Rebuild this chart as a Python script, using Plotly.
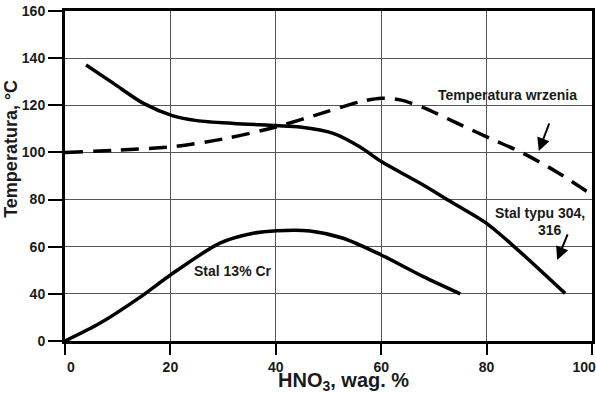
import plotly.graph_objects as go

# ---- data (HNO3 wt%, temperature °C) ----
hno3_boil = [0, 10, 20.5, 30.7, 40.2, 49.7, 56, 60, 63.6, 68, 74.4, 80.6, 86.9, 93.4, 100]
temp_boil = [100, 101, 102.4, 106, 110.9, 117.3, 121.5, 123, 122.3, 119, 112.4, 106, 99.7, 91.6, 82]

hno3_304 = [4.0, 9.2, 14.9, 20.5, 25, 32, 40, 44.6, 50.9, 56, 60.1, 67.4, 73.7, 80, 86.3, 94.9]
temp_304 = [137.1, 129.3, 120.8, 115.5, 113.5, 112.3, 111.4, 110.8, 108.1, 102.3, 96, 86.9, 78.4, 69.9, 57.9, 40.2]

hno3_cr = [0, 6.6, 14.2, 20, 29.4, 35.7, 40.2, 46.5, 52.8, 60, 68, 75]
temp_cr = [0, 15, 37, 48, 61.5, 65.7, 66.8, 66.7, 63.6, 56.5, 47.3, 40]

y_tick_labels = ["0", "40", "60", "80", "100", "120", "140", "160"]
x_tick_vals = [0, 20, 40, 60, 80, 100]
x_tick_labels = ["\u00a0\u00a0\u00a00", "20", "40", "60", "80", "100\u00a0\u00a0\u00a0\u00a0"]

# broken y axis: 0..40 is compressed into the span of one 20-degree step
def axis_break(v):
    return v if v >= 40 else 20 + v / 2.0

y_tick_pos = [axis_break(float(t)) for t in y_tick_labels]

fig = go.Figure()
common = dict(mode="lines", line_shape="spline", showlegend=False, hoverinfo="skip")
fig.add_trace(go.Scatter(x=hno3_boil, y=[axis_break(v) for v in temp_boil],
                         line=dict(color="black", width=3.5, dash="18px,10px", smoothing=0.8), **common))
fig.add_trace(go.Scatter(x=hno3_304, y=[axis_break(v) for v in temp_304],
                         line=dict(color="black", width=3.5, smoothing=0.8), **common))
fig.add_trace(go.Scatter(x=hno3_cr, y=[axis_break(v) for v in temp_cr],
                         line=dict(color="black", width=3.5, smoothing=0.8), **common))

bold = dict(family="Arial", color="#1a1a1a", weight="bold")

fig.update_layout(
    width=596, height=393,
    margin=dict(l=65, r=4, t=11, b=52, autoexpand=False),
    paper_bgcolor="white", plot_bgcolor="white",
    xaxis=dict(range=[0, 100], tickvals=x_tick_vals, ticktext=x_tick_labels, ticks="outside",
               ticklen=11, tickwidth=2, automargin=False, ticklabeloverflow="allow",
               tickcolor="black", showline=True, linewidth=3, linecolor="black", mirror=True,
               showgrid=True, gridcolor="#555", gridwidth=1, zeroline=False,
               tickfont=dict(size=14, **bold)),
    yaxis=dict(range=[20, 160], tickvals=y_tick_pos, ticktext=y_tick_labels, ticks="outside",
               ticklen=14, tickwidth=2, tickcolor="black", showline=True, linewidth=3,
               automargin=False, ticklabeloverflow="allow",
               linecolor="black", mirror=True, showgrid=True, gridcolor="#555", gridwidth=1,
               zeroline=False, tickfont=dict(size=14, **bold)),
)

# axis titles
fig.add_annotation(xref="paper", yref="paper", x=0.529, y=-0.122, xanchor="center", yanchor="middle",
                   text="HNO<sub>3</sub>, wag. %", showarrow=False, font=dict(size=20, **bold))
fig.add_annotation(xref="paper", yref="paper", x=-0.104, y=0.583, xanchor="center", yanchor="middle",
                   text="Temperatura, °C", textangle=-90, showarrow=False, font=dict(size=18, **bold))

ann_font = dict(size=14, **bold)
fig.add_annotation(x=83.9, y=124.4, text="Temperatura wrzenia", showarrow=False, font=ann_font)
fig.add_annotation(x=90.1, y=74.3, text="Stal typu 304,", showarrow=False, font=ann_font)
fig.add_annotation(x=92.0, y=67.1, text="316", showarrow=False, font=ann_font)
fig.add_annotation(x=31.8, y=49.7, text="Stal 13% Cr", showarrow=False, font=ann_font)

arrow = dict(text="", showarrow=True, arrowhead=2, arrowsize=1.3, arrowwidth=2,
             arrowcolor="black", axref="pixel", ayref="pixel")
fig.add_annotation(x=89.9, y=100.6, ax=11, ay=-29, **arrow)
fig.add_annotation(x=93.4, y=54.4, ax=11, ay=-27, **arrow)

fig.write_html("out.html", config={"displayModeBar": False},
               post_script="document.body.style.margin='0';document.body.style.overflow='hidden';")
